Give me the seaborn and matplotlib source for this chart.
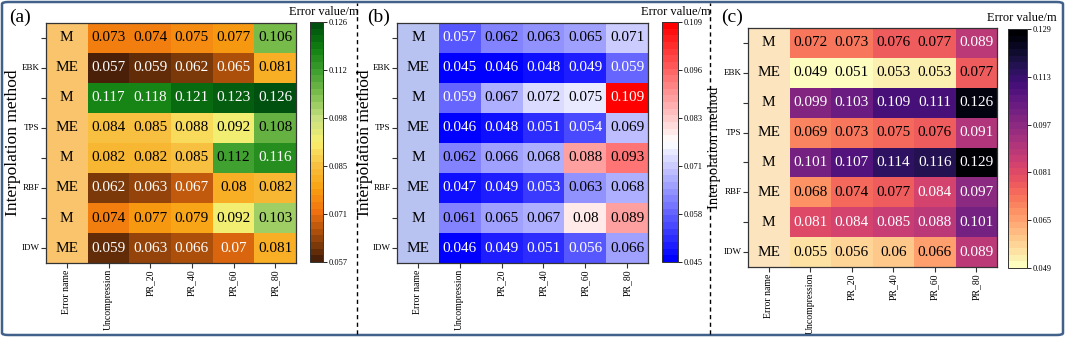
import numpy as np
import pandas as pd
import matplotlib
matplotlib.use("Agg")
import matplotlib.pyplot as plt
import seaborn as sns
from matplotlib.colors import LinearSegmentedColormap, ListedColormap
from matplotlib.patches import FancyBboxPatch
from matplotlib.lines import Line2D

# ---- data ----
columns = ["Uncompression", "PR_20", "PR_40", "PR_60", "PR_80"]
error_names = ["M", "ME", "M", "ME", "M", "ME", "M", "ME"]
methods = ["EBK", "TPS", "RBF", "IDW"]

vals_a = [
    [0.073, 0.074, 0.075, 0.077, 0.106],
    [0.057, 0.059, 0.062, 0.065, 0.081],
    [0.117, 0.118, 0.121, 0.123, 0.126],
    [0.084, 0.085, 0.088, 0.092, 0.108],
    [0.082, 0.082, 0.085, 0.112, 0.116],
    [0.062, 0.063, 0.067, 0.080, 0.082],
    [0.074, 0.077, 0.079, 0.092, 0.103],
    [0.059, 0.063, 0.066, 0.070, 0.081],
]
vals_b = [
    [0.057, 0.062, 0.063, 0.065, 0.071],
    [0.045, 0.046, 0.048, 0.049, 0.059],
    [0.059, 0.067, 0.072, 0.075, 0.109],
    [0.046, 0.048, 0.051, 0.054, 0.069],
    [0.062, 0.066, 0.068, 0.088, 0.093],
    [0.047, 0.049, 0.053, 0.063, 0.068],
    [0.061, 0.065, 0.067, 0.080, 0.089],
    [0.046, 0.049, 0.051, 0.056, 0.066],
]
vals_c = [
    [0.072, 0.073, 0.076, 0.077, 0.089],
    [0.049, 0.051, 0.053, 0.053, 0.077],
    [0.099, 0.103, 0.109, 0.111, 0.126],
    [0.069, 0.073, 0.075, 0.076, 0.091],
    [0.101, 0.107, 0.114, 0.116, 0.129],
    [0.068, 0.074, 0.077, 0.084, 0.097],
    [0.081, 0.084, 0.085, 0.088, 0.101],
    [0.055, 0.056, 0.060, 0.066, 0.089],
]

# ---- colormaps ----
cmap_a = LinearSegmentedColormap.from_list(
    "brgr", ["#4a2008", "#a04a0a", "#f07010", "#f8a010", "#f8c040",
             "#f8f070", "#c8e080", "#80c050", "#40a030", "#108010", "#005010"], N=36)
cmap_b = LinearSegmentedColormap.from_list("bwr36", plt.get_cmap("bwr")(np.linspace(0, 1, 256)), N=36)
cmap_c = LinearSegmentedColormap.from_list("magr36", plt.get_cmap("magma_r")(np.linspace(0, 1, 256)), N=36)

# white text where value <= lo or value >= hi
panels = [
    dict(vals=vals_a, cmap=cmap_a, vmin=0.057, vmax=0.126, name_col="#f9c46c", tag="(a)",
         white=(0.0705, 0.114),
         ax=[46, 23, 296, 263], cax=[310, 22, 323, 262], tag_xy=(9, 17), title_xy=(324, 12),
         ylab=12.5, ylab_x=21),
    dict(vals=vals_b, cmap=cmap_b, vmin=0.045, vmax=0.109, name_col="#b9c3f2", tag="(b)",
         white=(0.0595, 0.1),
         ax=[397, 23, 648, 263], cax=[662, 22, 678, 262], tag_xy=(367, 17), title_xy=(676, 12),
         ylab=12.5, ylab_x=373),
    dict(vals=vals_c, cmap=cmap_c, vmin=0.049, vmax=0.129, name_col="#fce4be", tag="(c)",
         white=(0.0, 0.0785),
         ax=[748, 28, 997, 267], cax=[1008, 29, 1027, 268], tag_xy=(721, 17), title_xy=(1022, 18),
         ylab=10.5, ylab_x=721),
]

W, H = 1065, 337
plt.rcParams["font.family"] = ["Liberation Serif", "DejaVu Serif"]
fig = plt.figure(figsize=(W / 100, H / 100), dpi=100)


def px_rect(r):
    x0, y0, x1, y1 = r
    return [x0 / W, 1 - y1 / H, (x1 - x0) / W, (y1 - y0) / H]


ylabels = []
for i in range(len(error_names)):
    ylabels.append(methods[i // 2] if i % 2 == 1 else "")

for p in panels:
    ax = fig.add_axes(px_rect(p["ax"]))
    cax = fig.add_axes(px_rect(p["cax"]))

    df = pd.DataFrame(p["vals"], columns=columns)
    df.insert(0, "Error name", 0.0)
    annot = df.copy().astype(object)
    for c in columns:
        annot[c] = [f"{v:g}" for v in df[c]]
    annot["Error name"] = error_names

    mask_vals = np.zeros(df.shape, dtype=bool)
    mask_vals[:, 0] = True
    sns.heatmap(df, ax=ax, cmap=p["cmap"], vmin=p["vmin"], vmax=p["vmax"], mask=mask_vals,
                annot=annot.values, fmt="", annot_kws={"fontsize": 11},
                cbar_ax=cax, linewidths=0)
    cbar = ax.collections[0].colorbar
    # recolour value labels like the reference
    lo, hi = p["white"]
    for t in ax.texts:
        v = float(t.get_text())
        t.set_color("white" if (v <= lo or v >= hi) else "black")
    sns.heatmap(df, ax=ax, cmap=ListedColormap([p["name_col"]]), mask=~mask_vals,
                annot=annot.values, fmt="", annot_kws={"fontsize": 11, "color": "black"},
                cbar=False, linewidths=0)

    ax.set_yticks(np.arange(len(error_names)) + 0.5)
    ax.set_yticklabels(ylabels, rotation=0, fontsize=6.5)
    ax.set_xticks(np.arange(df.shape[1]) + 0.5)
    ax.set_xticklabels(df.columns, rotation=90, fontsize=7)
    ax.tick_params(length=3.5, width=0.8, color="#333333", pad=1)
    ax.set_ylabel("Interpolation method", fontsize=p["ylab"])
    x0 = p["ax"][0]
    ax.yaxis.set_label_coords((p["ylab_x"] - x0) / (p["ax"][2] - x0), 0.5)
    ax.set_xlabel("")
    for s in ax.spines.values():
        s.set_visible(True)
        s.set_linewidth(0.9)
        s.set_color("#333333")

    ticks = np.linspace(p["vmin"], p["vmax"], 6)
    cbar.set_ticks(ticks)
    cbar.set_ticklabels([f"{t:.3f}" for t in ticks], fontsize=6)
    cax.tick_params(length=3, width=0.6, pad=1)
    cbar.outline.set_visible(True)
    cbar.outline.set_linewidth(0.7)
    cbar.outline.set_edgecolor("#333333")

    fig.text(p["title_xy"][0] / W, 1 - p["title_xy"][1] / H, "Error value/m",
             fontsize=9, ha="center", va="center")
    fig.text(p["tag_xy"][0] / W, 1 - p["tag_xy"][1] / H, p["tag"],
             fontsize=14, ha="left", va="center")

# separators and outer frame
for xd in (357, 710):
    fig.add_artist(Line2D([xd / W, xd / W], [3 / H, 1 - 3 / H], color="black",
                          linestyle=(0, (3, 2.5)), linewidth=1))
fig.add_artist(FancyBboxPatch((2 / W, 2 / H), 1 - 4 / W, 1 - 4 / H,
                              boxstyle="round,pad=0,rounding_size=0.006",
                              transform=fig.transFigure, fill=False,
                              edgecolor="#41618a", linewidth=1.8))

fig.savefig("out.png", dpi=100)
